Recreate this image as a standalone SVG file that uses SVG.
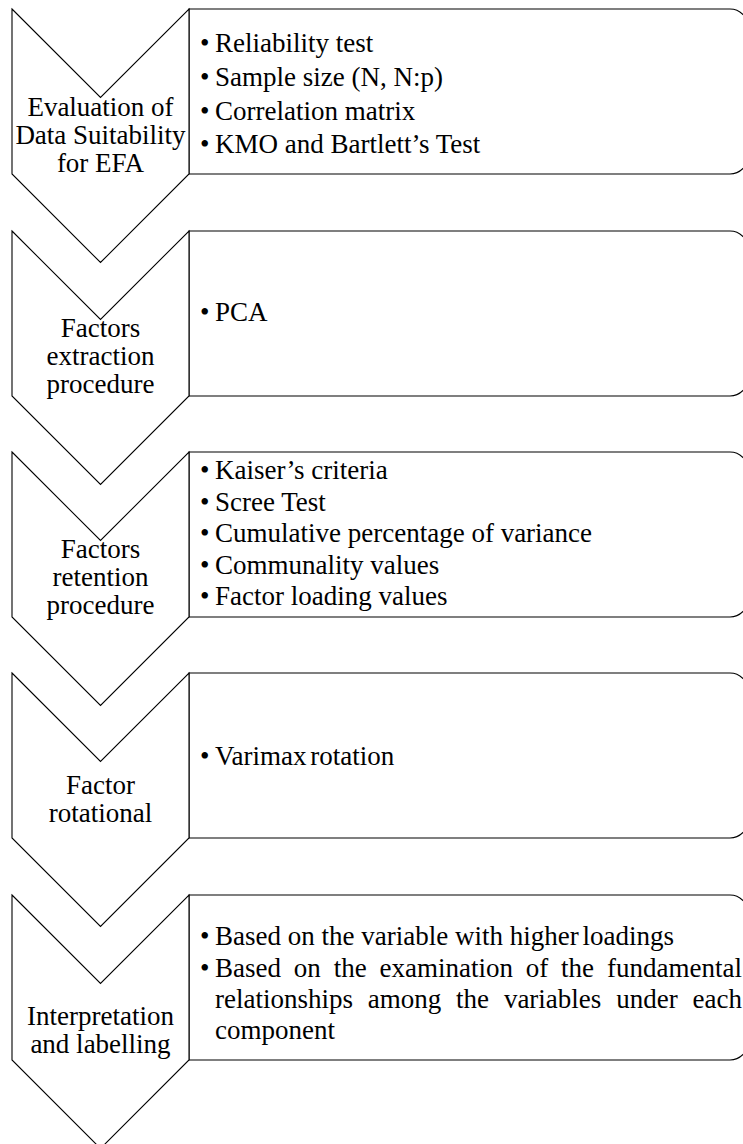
<svg xmlns="http://www.w3.org/2000/svg" width="743" height="1144" viewBox="0 0 743 1144">
  <style>
    .box { fill: #ffffff; stroke: #000000; stroke-width: 1.1; }
    .chev { fill: #ffffff; stroke: #000000; stroke-width: 1.1; stroke-linejoin: miter; }
    text { font-family: 'Liberation Serif', 'Times New Roman', serif; font-size: 27px; fill: #000000; }
    .lbl { text-anchor: middle; }
    .tight { word-spacing: -3px; }
  </style>
  <rect width="743" height="1144" fill="#ffffff"/>

  <g id="connectors"></g>

  <!-- Step 1: data suitability -->
  <g id="step1">
    <path class="box" d="M189,9 H730 A18,18 0 0 1 748,27 V156 A18,18 0 0 1 730,174 H189 Z"/>
    <path class="chev" d="M12,9 L100.5,97.5 L189,9 V174 L100.5,262.5 L12,174 Z"/>
    <text class="lbl" x="100.5" y="116">Evaluation of</text>
    <text class="lbl" x="100.5" y="144">Data Suitability</text>
    <text class="lbl" x="100.5" y="172">for EFA</text>
    <text x="200" y="52">•</text><text x="215" y="52">Reliability test</text>
    <text x="200" y="86">•</text><text x="215" y="86">Sample size (N, N:p)</text>
    <text x="200" y="120">•</text><text x="215" y="120">Correlation matrix</text>
    <text x="200" y="153">•</text><text x="215" y="153">KMO and Bartlett’s Test</text>
  </g>

  <!-- Step 2: extraction -->
  <g id="step2">
    <path class="box" d="M189,231 H730 A18,18 0 0 1 748,249 V378 A18,18 0 0 1 730,396 H189 Z"/>
    <path class="chev" d="M12,231 L100.5,319.5 L189,231 V396 L100.5,484.5 L12,396 Z"/>
    <text class="lbl" x="100.5" y="337">Factors</text>
    <text class="lbl" x="100.5" y="365">extraction</text>
    <text class="lbl" x="100.5" y="393">procedure</text>
    <text x="200" y="321">•</text><text x="215" y="321">PCA</text>
  </g>

  <!-- Step 3: retention -->
  <g id="step3">
    <path class="box" d="M189,452 H730 A18,18 0 0 1 748,470 V599 A18,18 0 0 1 730,617 H189 Z"/>
    <path class="chev" d="M12,452 L100.5,540.5 L189,452 V617 L100.5,705.5 L12,617 Z"/>
    <text class="lbl" x="100.5" y="558">Factors</text>
    <text class="lbl" x="100.5" y="586">retention</text>
    <text class="lbl" x="100.5" y="614">procedure</text>
    <text x="200" y="479">•</text><text x="215" y="479">Kaiser’s criteria</text>
    <text x="200" y="511">•</text><text x="215" y="511">Scree Test</text>
    <text x="200" y="542">•</text><text x="215" y="542">Cumulative percentage of variance</text>
    <text x="200" y="574">•</text><text x="215" y="574">Communality values</text>
    <text x="200" y="605">•</text><text x="215" y="605">Factor loading values</text>
  </g>

  <!-- Step 4: rotation -->
  <g id="step4">
    <path class="box" d="M189,673 H730 A18,18 0 0 1 748,691 V820 A18,18 0 0 1 730,838 H189 Z"/>
    <path class="chev" d="M12,673 L100.5,761.5 L189,673 V838 L100.5,926.5 L12,838 Z"/>
    <text class="lbl" x="100.5" y="794">Factor</text>
    <text class="lbl" x="100.5" y="822">rotational</text>
    <text x="200" y="765">•</text><text class="tight" x="215" y="765">Varimax rotation</text>
  </g>

  <!-- Step 5: interpretation -->
  <g id="step5">
    <path class="box" d="M189,895 H730 A18,18 0 0 1 748,913 V1042 A18,18 0 0 1 730,1060 H189 Z"/>
    <path class="chev" d="M12,895 L100.5,983.5 L189,895 V1060 L100.5,1148.5 L12,1060 Z"/>
    <text class="lbl" x="100.5" y="1025">Interpretation</text>
    <text class="lbl" x="100.5" y="1053">and labelling</text>
    <text x="200" y="945">•</text><text x="215" y="945">Based on the variable with higher<tspan class="tight"> loadings</tspan></text>
    <text x="200" y="977">•</text>
    <!-- justified lines: words placed one by one -->
    <text y="977"><tspan x="215">Based</tspan><tspan x="293.8">on</tspan><tspan x="333.7">the</tspan><tspan x="379.5">examination</tspan><tspan x="525.8">of</tspan><tspan x="561.1">the</tspan><tspan x="742" text-anchor="end">fundamental</tspan></text>
    <text y="1008"><tspan x="215">relationships</tspan><tspan x="367.8">among</tspan><tspan x="456.1">the</tspan><tspan x="503.9">variables</tspan><tspan x="616.2">under</tspan><tspan x="742" text-anchor="end">each</tspan></text>
    <text x="215" y="1039">component</text>
  </g>
</svg>
